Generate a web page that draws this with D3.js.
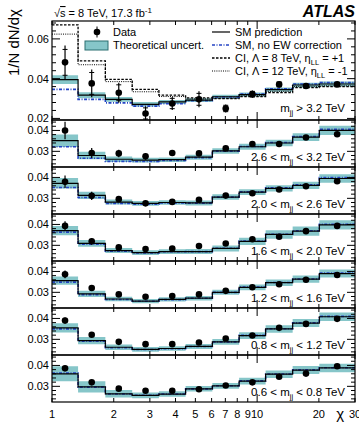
<!DOCTYPE html>
<html>
<head>
<meta charset="utf-8">
<script src="https://cdn.jsdelivr.net/npm/d3@7"></script>
<style>
  body { margin: 0; background: #fff; }
  svg { display: block; font-family: "Liberation Sans", Arial, sans-serif; }
</style>
</head>
<body>
<svg id="chart" width="359" height="423"></svg>
<script>
// ---- data ------------------------------------------------------------
var chiEdges = [1, 1.34, 1.82, 2.46, 3.32, 4.48, 6.05, 8.17, 11.0, 14.9, 20.1, 30];
var xTickVals = [1, 2, 3, 4, 5, 6, 7, 8, 9, 10, 20, 30];
var xTickLabels = ["1", "2", "3", "4", "5", "6", "7", "8", "9", "10", "20", "30"];

var labelPre  = ["", "2.6 < ", "2.0 < ", "1.6 < ", "1.2 < ", "0.8 < ", "0.6 < "];
var labelPost = [" > 3.2 TeV", " < 3.2 TeV", " < 2.6 TeV", " < 2.0 TeV", " < 1.6 TeV", " < 1.2 TeV", " < 0.8 TeV"];

// mjj > 3.2 TeV
var data3200 = [0.0482, 0.0376, 0.0329, 0.0225, 0.0275, 0.0296, 0.0250, 0.0322, 0.0371, 0.0363, 0.0371];
var err3200  = [0.0085, 0.0070, 0.0050, 0.0035, 0.0033, 0.0040, 0.0020, 0.0018, 0.0015, 0.0012, 0.0010];
var stat3200 = [0.0065, 0.0055, 0.0040, 0.0028, 0.0026, 0.0030, 0.0016, 0.0014, 0.0012, 0.0010, 0.0008];
var sm3200   = [0.0395, 0.0317, 0.0296, 0.0271, 0.0283, 0.0292, 0.0309, 0.0320, 0.0345, 0.0368, 0.0373];
var unc3200  = [0.0022, 0.0015, 0.0012, 0.0011, 0.0010, 0.0010, 0.0010, 0.0010, 0.0011, 0.0012, 0.0013];
var noew3200 = [0.0346, 0.0296, 0.0278, 0.0262, 0.0274, 0.0289, 0.0308, 0.0322, 0.0349, 0.0373, 0.0380];
var ci8      = [0.0671, 0.0489, 0.0396, 0.0346, 0.0317, 0.0303, 0.0300, 0.0310, 0.0330, 0.0355, 0.0360];
var ci12     = [0.0624, 0.0470, 0.0385, 0.0334, 0.0310, 0.0298, 0.0302, 0.0314, 0.0336, 0.0360, 0.0364];

// 2.6 < mjj < 3.2 TeV
var data2600 = [0.0400, 0.0292, 0.0290, 0.0276, 0.0292, 0.0290, 0.0314, 0.0335, 0.0335, 0.0366, 0.0382];
var err2600  = [0.0042, 0.0024, 0.0018, 0.0016, 0.0012, 0.0010, 0.0009, 0.0008, 0.0008, 0.0007, 0.0007];
var sm2600   = [0.0351, 0.0280, 0.0262, 0.0258, 0.0260, 0.0272, 0.0302, 0.0322, 0.0340, 0.0368, 0.0400];
var unc2600  = [0.0030, 0.0018, 0.0013, 0.0011, 0.0011, 0.0012, 0.0013, 0.0014, 0.0016, 0.0018, 0.0022];
var noew2600 = [0.0322, 0.0267, 0.0252, 0.0251, 0.0256, 0.0270, 0.0301, 0.0323, 0.0342, 0.0371, 0.0405];

// 2.0 < mjj < 2.6 TeV
var data2000 = [0.0379, 0.0312, 0.0296, 0.0276, 0.0283, 0.0293, 0.0313, 0.0324, 0.0342, 0.0358, 0.0382];
var err2000  = [0.0030, 0.0020, 0.0014, 0.0012, 0.0010, 0.0008, 0.0007, 0.0006, 0.0006, 0.0006, 0.0006];
var sm2000   = [0.0372, 0.0314, 0.0282, 0.0276, 0.0280, 0.0278, 0.0306, 0.0330, 0.0348, 0.0362, 0.0395];
var unc2000  = [0.0025, 0.0017, 0.0012, 0.0011, 0.0011, 0.0012, 0.0013, 0.0014, 0.0015, 0.0017, 0.0020];
var noew2000 = [0.0352, 0.0304, 0.0276, 0.0272, 0.0278, 0.0277, 0.0306, 0.0331, 0.0350, 0.0365, 0.0399];

// 1.6 < mjj < 2.0 TeV
var data1600 = [0.0393, 0.0319, 0.0290, 0.0282, 0.0285, 0.0297, 0.0309, 0.0329, 0.0341, 0.0368, 0.0393];
var err1600  = [0.0022, 0.0015, 0.0010, 0.0008, 0.0007, 0.0006, 0.0005, 0.0005, 0.0005, 0.0005, 0.0005];
var sm1600   = [0.0370, 0.0309, 0.0275, 0.0265, 0.0270, 0.0270, 0.0285, 0.0319, 0.0352, 0.0368, 0.0398];
var unc1600  = [0.0022, 0.0016, 0.0012, 0.0011, 0.0011, 0.0012, 0.0014, 0.0017, 0.0020, 0.0022, 0.0022];
var noew1600 = [0.0363, 0.0305, 0.0272, 0.0263, 0.0269, 0.0270, 0.0286, 0.0320, 0.0353, 0.0370, 0.0401];

// 1.2 < mjj < 1.6 TeV
var data1200 = [0.0386, 0.0321, 0.0290, 0.0279, 0.0282, 0.0290, 0.0307, 0.0324, 0.0339, 0.0360, 0.0383];
var err1200  = [0.0018, 0.0012, 0.0008, 0.0006, 0.0005, 0.0005, 0.0004, 0.0004, 0.0004, 0.0004, 0.0004];
var sm1200   = [0.0356, 0.0293, 0.0268, 0.0258, 0.0266, 0.0272, 0.0300, 0.0324, 0.0346, 0.0363, 0.0390];
var unc1200  = [0.0020, 0.0015, 0.0011, 0.0010, 0.0010, 0.0011, 0.0012, 0.0014, 0.0016, 0.0017, 0.0019];
var noew1200 = [0.0349, 0.0289, 0.0266, 0.0257, 0.0265, 0.0272, 0.0300, 0.0325, 0.0347, 0.0364, 0.0392];

// 0.8 < mjj < 1.2 TeV
var data800 = [0.0390, 0.0322, 0.0288, 0.0277, 0.0277, 0.0285, 0.0304, 0.0318, 0.0355, 0.0374, 0.0398];
var err800  = [0.0015, 0.0010, 0.0007, 0.0005, 0.0004, 0.0004, 0.0003, 0.0003, 0.0003, 0.0003, 0.0003];
var sm800   = [0.0355, 0.0294, 0.0262, 0.0252, 0.0256, 0.0266, 0.0288, 0.0318, 0.0350, 0.0378, 0.0408];
var unc800  = [0.0022, 0.0017, 0.0013, 0.0011, 0.0011, 0.0012, 0.0014, 0.0016, 0.0018, 0.0019, 0.0020];
var noew800 = [0.0350, 0.0291, 0.0260, 0.0251, 0.0255, 0.0266, 0.0288, 0.0319, 0.0351, 0.0379, 0.0410];

// 0.6 < mjj < 0.8 TeV
var data600 = [0.0386, 0.0319, 0.0289, 0.0279, 0.0279, 0.0286, 0.0304, 0.0319, 0.0346, 0.0361, 0.0396];
var err600  = [0.0012, 0.0008, 0.0005, 0.0004, 0.0003, 0.0003, 0.0003, 0.0003, 0.0003, 0.0003, 0.0003];
var sm600   = [0.0360, 0.0297, 0.0264, 0.0257, 0.0263, 0.0288, 0.0302, 0.0325, 0.0358, 0.0378, 0.0388];
var unc600  = [0.0036, 0.0027, 0.0018, 0.0014, 0.0013, 0.0013, 0.0014, 0.0016, 0.0018, 0.0019, 0.0020];
var noew600 = [0.0364, 0.0296, 0.0263, 0.0257, 0.0263, 0.0288, 0.0303, 0.0326, 0.0359, 0.0379, 0.0389];

var topDomain = [0.0192, 0.069];
var lowDomain = [0.0225, 0.045];

// ---- layout ------------------------------------------------------------
var BAND = "#86c6c9", BLUE = "#2443c4";
var L = 52, R = 355, TOP0 = 21, BOT0 = 120, PH = 47;

var svg = d3.select("#chart");
var defs = svg.append("defs");
var x = d3.scaleLog().domain([1, 30]).range([L, R]);

var panels = [
  { data: data3200, err: err3200, stat: stat3200, sm: sm3200, unc: unc3200, noew: noew3200, ci: [ci8, ci12] },
  { data: data2600, err: err2600, sm: sm2600, unc: unc2600, noew: noew2600 },
  { data: data2000, err: err2000, sm: sm2000, unc: unc2000, noew: noew2000 },
  { data: data1600, err: err1600, sm: sm1600, unc: unc1600, noew: noew1600 },
  { data: data1200, err: err1200, sm: sm1200, unc: unc1200, noew: noew1200 },
  { data: data800,  err: err800,  sm: sm800,  unc: unc800,  noew: noew800 },
  { data: data600,  err: err600,  sm: sm600,  unc: unc600,  noew: noew600 }
];

function steps(vals) {
  return chiEdges.map(function (e, k) { return [e, vals[Math.min(k, vals.length - 1)]]; });
}
function bandSteps(vals, unc) {
  return chiEdges.map(function (e, k) {
    var j = Math.min(k, vals.length - 1);
    return [e, vals[j] - unc[j], vals[j] + unc[j]];
  });
}
function centre(k) { return Math.sqrt(chiEdges[k] * chiEdges[k + 1]); }
function range(a, b, s) {
  var out = [], n = Math.ceil(a / s - 1e-9);
  for (var v = n * s; v <= b + 1e-9; v = (++n) * s) out.push(+v.toFixed(5));
  return out;
}
function subText(t, pre, sub, post) {
  t.append("tspan").text(pre);
  t.append("tspan").attr("dy", 2.5).style("font-size", "7.5px").text(sub);
  t.append("tspan").attr("dy", -2.5).text(post);
}

panels.forEach(function (p, i) {
  var top = i === 0 ? TOP0 : BOT0 + (i - 1) * PH;
  var bot = i === 0 ? BOT0 : top + PH;
  var y = d3.scaleLinear().domain(i === 0 ? topDomain : lowDomain).range([bot, top]);
  var g = svg.append("g");

  defs.append("clipPath").attr("id", "clip" + i).append("rect")
    .attr("x", L).attr("y", top).attr("width", R - L).attr("height", bot - top);
  var plot = g.append("g").attr("clip-path", "url(#clip" + i + ")");

  // theory band
  plot.append("path").datum(bandSteps(p.sm, p.unc))
    .attr("fill", BAND)
    .attr("d", d3.area().curve(d3.curveStepAfter)
      .x(function (d) { return x(d[0]); })
      .y0(function (d) { return y(d[1]); })
      .y1(function (d) { return y(d[2]); }));

  var line = d3.line().curve(d3.curveStepAfter)
    .x(function (d) { return x(d[0]); })
    .y(function (d) { return y(d[1]); });

  // CI lines (top panel)
  if (p.ci) {
    plot.append("path").datum(steps(p.ci[1])).attr("d", line)
      .attr("fill", "none").attr("stroke", "#000").attr("stroke-width", 1)
      .attr("stroke-dasharray", "1 1.2");
    plot.append("path").datum(steps(p.ci[0])).attr("d", line)
      .attr("fill", "none").attr("stroke", "#000").attr("stroke-width", 1.3)
      .attr("stroke-dasharray", "2.5 1.5");
  }
  // SM, no EW
  plot.append("path").datum(steps(p.noew)).attr("d", line)
    .attr("fill", "none").attr("stroke", BLUE).attr("stroke-width", 1.6)
    .attr("stroke-dasharray", "3 1.5 1 1.5");
  // SM prediction
  plot.append("path").datum(steps(p.sm)).attr("d", line)
    .attr("fill", "none").attr("stroke", "#000").attr("stroke-width", 1.2);

  // data
  var pts = plot.selectAll(".pt").data(p.data).enter().append("g");
  pts.append("line")
    .attr("x1", function (d, k) { return x(centre(k)); })
    .attr("x2", function (d, k) { return x(centre(k)); })
    .attr("y1", function (d, k) { return y(d - p.err[k]); })
    .attr("y2", function (d, k) { return y(d + p.err[k]); })
    .attr("stroke", "#000").attr("stroke-width", 1.2);
  if (p.stat) {
    [-1, 1].forEach(function (s) {
      pts.append("line")
        .attr("x1", function (d, k) { return x(centre(k)) - 2.5; })
        .attr("x2", function (d, k) { return x(centre(k)) + 2.5; })
        .attr("y1", function (d, k) { return y(d + s * p.stat[k]); })
        .attr("y2", function (d, k) { return y(d + s * p.stat[k]); })
        .attr("stroke", "#000").attr("stroke-width", 1);
    });
  }
  pts.append("circle")
    .attr("cx", function (d, k) { return x(centre(k)); })
    .attr("cy", function (d) { return y(d); })
    .attr("r", 3.3).attr("fill", "#000");

  // frame
  g.append("rect").attr("x", L).attr("y", top).attr("width", R - L).attr("height", bot - top)
    .attr("fill", "none").attr("stroke", "#000").attr("stroke-width", 1.2);

  // y ticks (left + right), labels
  var major = i === 0 ? 0.02 : 0.01, minor = i === 0 ? 0.004 : 0.002;
  var dom = y.domain();
  range(dom[0], dom[1], minor).forEach(function (v) {
    var isMaj = Math.abs(v / major - Math.round(v / major)) < 1e-6;
    var len = isMaj ? 8 : 4;
    g.append("line").attr("x1", L).attr("x2", L + len).attr("y1", y(v)).attr("y2", y(v))
      .attr("stroke", "#000").attr("stroke-width", 1);
    g.append("line").attr("x1", R - len).attr("x2", R).attr("y1", y(v)).attr("y2", y(v))
      .attr("stroke", "#000").attr("stroke-width", 1);
    if (isMaj) {
      g.append("text").attr("x", L - 3).attr("y", y(v) + 4).attr("text-anchor", "end")
        .style("font-size", "11px").text(d3.format(".2f")(v));
    }
  });

  // x ticks (top + bottom of each panel)
  xTickVals.forEach(function (v) {
    var len = v === 10 ? 8 : 4;
    g.append("line").attr("x1", x(v)).attr("x2", x(v)).attr("y1", bot).attr("y2", bot - len)
      .attr("stroke", "#000").attr("stroke-width", 1);
    g.append("line").attr("x1", x(v)).attr("x2", x(v)).attr("y1", top).attr("y2", top + len)
      .attr("stroke", "#000").attr("stroke-width", 1);
  });

  // mass label
  var t = g.append("text").attr("x", 345).attr("y", i === 0 ? bot - 8 : bot - 6)
    .attr("text-anchor", "end").style("font-size", "11.5px");
  subText(t, labelPre[i] + "m", "jj", labelPost[i]);

  // bottom axis labels
  if (i === panels.length - 1) {
    xTickVals.forEach(function (v, k) {
      g.append("text").attr("x", x(v)).attr("y", bot + 16).attr("text-anchor", "middle")
        .style("font-size", "11px").text(xTickLabels[k]);
    });
    g.append("text").attr("x", 344).attr("y", 419).attr("text-anchor", "end")
      .style("font-size", "15px").text("χ");
  }
});

// ---- titles ------------------------------------------------------------
svg.append("text").attr("transform", "translate(19,9) rotate(-90)")
  .attr("text-anchor", "end").style("font-size", "15px").text("1/N dN/dχ");

var ecm = svg.append("text").attr("x", 54).attr("y", 17).style("font-size", "11px");
ecm.append("tspan").text("√");
ecm.append("tspan").style("text-decoration", "overline").text("s");
ecm.append("tspan").text(" = 8 TeV, 17.3 fb");
ecm.append("tspan").attr("dy", -4).style("font-size", "8px").text("-1");

svg.append("text").attr("x", 355).attr("y", 17).attr("text-anchor", "end")
  .style("font-size", "16px").style("font-weight", "bold").style("font-style", "italic")
  .text("ATLAS");

// ---- legend ------------------------------------------------------------
var lg = svg.append("g").style("font-size", "11px");
lg.append("circle").attr("cx", 97).attr("cy", 32).attr("r", 3.3).attr("fill", "#000");
lg.append("line").attr("x1", 97).attr("x2", 97).attr("y1", 26.5).attr("y2", 37.5).attr("stroke", "#000");
lg.append("text").attr("x", 113).attr("y", 36).text("Data");
lg.append("rect").attr("x", 85).attr("y", 41).attr("width", 23).attr("height", 9)
  .attr("fill", BAND).attr("stroke", "#2a6e70").attr("stroke-width", 1);
lg.append("text").attr("x", 113).attr("y", 49).text("Theoretical uncert.");

var rows = [
  { stroke: "#000", dash: null, w: 1.2, label: ["SM prediction"] },
  { stroke: BLUE, dash: "3 1.5 1 1.5", w: 1.6, label: ["SM, no EW correction"] },
  { stroke: "#000", dash: "2.5 1.5", w: 1.3, label: ["CI, Λ = 8 TeV, η", "LL", " = +1"] },
  { stroke: "#000", dash: "1 1.2", w: 1, label: ["CI, Λ = 12 TeV, η", "LL", " = -1"] }
];
rows.forEach(function (r, k) {
  var yy = 32 + k * 13;
  lg.append("line").attr("x1", 212).attr("x2", 230).attr("y1", yy).attr("y2", yy)
    .attr("stroke", r.stroke).attr("stroke-width", r.w).attr("stroke-dasharray", r.dash);
  var t = lg.append("text").attr("x", 235).attr("y", yy + 4);
  if (r.label.length === 1) t.text(r.label[0]);
  else subText(t, r.label[0], r.label[1], r.label[2]);
});
</script>
</body>
</html>
